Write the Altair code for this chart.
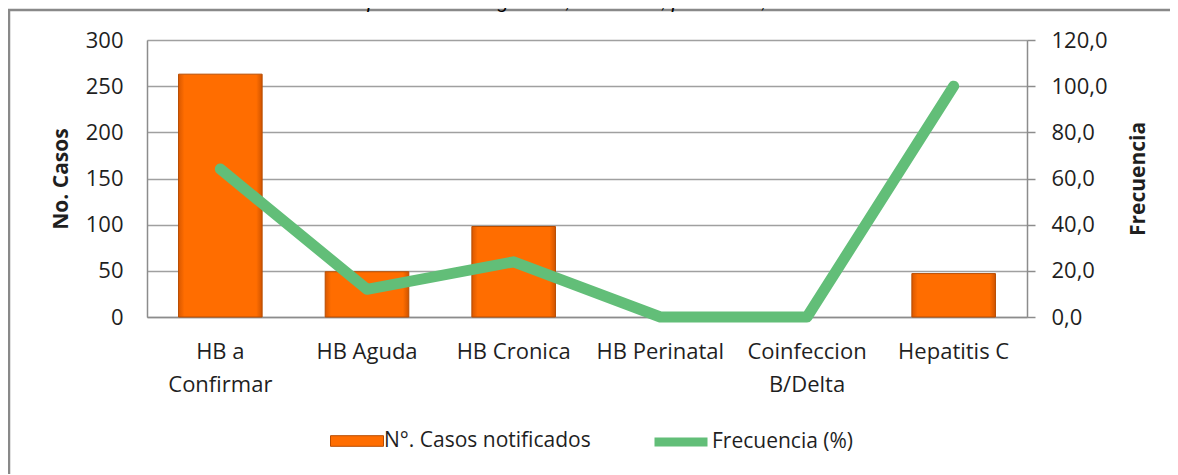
import altair as alt
import pandas as pd

# ---- data ----
categorias = ["HB a\nConfirmar", "HB Aguda", "HB Cronica", "HB Perinatal", "Coinfeccion\nB/Delta", "Hepatitis C"]
casos = [263, 49, 98, 0, 0, 47]
frecuencia = [64.1, 12.0, 23.9, 0.0, 0.0, 100.0]
ticks_casos = [0, 50, 100, 150, 200, 250, 300]
ticks_frec = [0, 20, 40, 60, 80, 100, 120]
serie_barras = "N°. Casos notificados"
serie_linea = "Frecuencia (%)"
titulo = "protocolo de vigilancia, Colombia, periodo III, 2016"

df = pd.DataFrame({
    "categoria": categorias,
    "casos": casos,
    "frecuencia": frecuencia,
    "sb": [serie_barras] * len(categorias),
    "sl": [serie_linea] * len(categorias),
})
one = pd.DataFrame({"t": [titulo]})

FONT = "Open Sans"
TXT = "#1f1f1f"
AX = "#8c8c8c"
ORANGE = "#FF6D00"
GREEN = "#62BE78"

x_enc = alt.X(
    "categoria:N", sort=categorias,
    scale=alt.Scale(domain=categorias, paddingInner=0.43, paddingOuter=0.215),
    axis=alt.Axis(title=None, labelAngle=0, labelExpr="split(datum.label, '\\n')",
                  labelFont=FONT, labelFontSize=22, labelLineHeight=33, labelPadding=24,
                  labelColor=TXT, labelOverlap=False, labelLimit=400,
                  ticks=False, domainColor=AX, domainWidth=1.5),
)

y_left = alt.Y(
    "casos:Q",
    scale=alt.Scale(domain=[0, 300], nice=False),
    axis=alt.Axis(values=ticks_casos, title="No. Casos", orient="left",
                  titleFont=FONT, titleFontSize=21, titleFontWeight="bold", titleColor=TXT,
                  titlePadding=14,
                  labelFont=FONT, labelFontSize=22, labelColor=TXT, labelPadding=24,
                  ticks=False, domainColor=AX, domainWidth=1.5,
                  grid=True, gridColor="#a0a0a0", gridWidth=1.5),
)

y_right = alt.Y(
    "frecuencia:Q",
    scale=alt.Scale(domain=[0, 120], nice=False),
    axis=alt.Axis(values=ticks_frec, title="Frecuencia", orient="right",
                  titleAngle=270, titleBaseline="top",
                  titleFont=FONT, titleFontSize=21, titleFontWeight="bold", titleColor=TXT,
                  titlePadding=20,
                  labelExpr="replace(format(datum.value, '.1f'), '.', ',')",
                  labelFont=FONT, labelFontSize=22, labelColor=TXT, labelPadding=16,
                  tickSize=8, tickColor=AX, tickWidth=1.5,
                  domainColor=AX, domainWidth=1.5, grid=False),
)

grad = alt.Gradient(
    gradient="linear", x1=0, x2=1, y1=0, y2=0,
    stops=[alt.GradientStop(offset=0, color="#D95800"),
           alt.GradientStop(offset=0.07, color=ORANGE),
           alt.GradientStop(offset=0.93, color=ORANGE),
           alt.GradientStop(offset=1, color="#D05400")],
)

bars = alt.Chart(df).transform_filter("datum.casos > 0").mark_bar(
    color=grad, stroke="#B84C00", strokeWidth=1
).encode(x=x_enc, y=y_left)

bars_legend = alt.Chart(df).mark_bar(opacity=0).encode(
    x=x_enc, y=y_left,
    color=alt.Color("sb:N", scale=alt.Scale(range=[ORANGE]),
                    legend=alt.Legend(title=None, orient="none", legendX=183, legendY=374,
                                      symbolType="M-1,-0.2H1V0.2H-1Z", symbolSize=2809,
                                      symbolOpacity=1, symbolStrokeColor="#B84C00", symbolStrokeWidth=1,
                                      labelFont=FONT, labelFontSize=21, labelColor=TXT,
                                      labelOffset=0, labelLimit=400)),
)

left = alt.layer(bars, bars_legend)

line = alt.Chart(df).mark_line(strokeWidth=11, strokeCap="round", strokeJoin="round").encode(
    x=x_enc, y=y_right,
    stroke=alt.Stroke("sl:N", scale=alt.Scale(range=[GREEN]),
                      legend=alt.Legend(title=None, orient="none", legendX=503, legendY=371,
                                        symbolType="stroke", symbolSize=2809, symbolStrokeWidth=9,
                                        labelFont=FONT, labelFontSize=21, labelColor=TXT,
                                        labelOffset=0, labelLimit=400)),
)

frame = alt.Chart(one).mark_rect(fillOpacity=0, stroke="#898989", strokeWidth=2.5).encode(
    x=alt.value(-138), x2=alt.value(1100), y=alt.value(-30), y2=alt.value(520),
)

title_txt = alt.Chart(one).mark_text(
    font="Liberation Sans", fontStyle="italic", fontSize=20, baseline="alphabetic",
    align="center", color="#000",
).encode(x=alt.value(445), y=alt.value(-32), text="t:N")

chart = alt.layer(frame, title_txt, left, line).resolve_scale(y="independent").properties(
    width=880, height=277,
    autosize=alt.AutoSizeParams(type="none"),
    padding={"left": 139, "top": 32, "right": 143, "bottom": 157},
).configure_view(stroke=None).configure(background="white")

chart.save("out.html", embed_options={"renderer": "svg", "actions": False})
